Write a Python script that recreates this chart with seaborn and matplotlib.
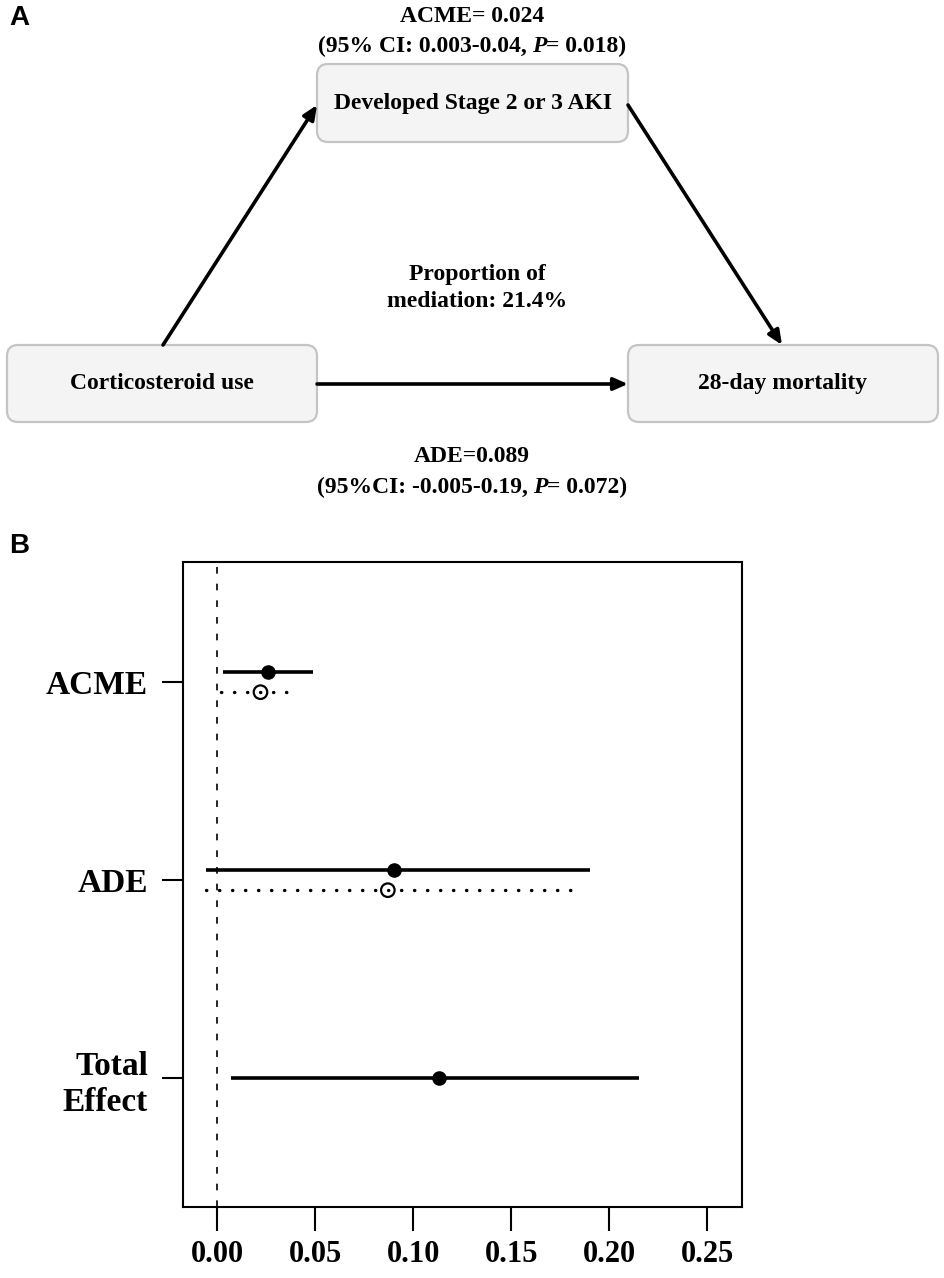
import numpy as np
import pandas as pd
import seaborn as sns
import matplotlib.pyplot as plt
from matplotlib.patches import FancyBboxPatch
from matplotlib.offsetbox import TextArea, HPacker, AnnotationBbox, DrawingArea

# panel B values
effects = ["ACME", "ADE", "Total\nEffect"]
ypos = [3, 2, 1]
treated_est = [0.026, 0.090, 0.113]
treated_lo = [0.003, -0.006, 0.007]
treated_hi = [0.049, 0.190, 0.215]
control_est = [0.022, 0.087]
control_lo = [0.002, -0.006]
control_hi = [0.036, 0.182]
x_ticks = [0.00, 0.05, 0.10, 0.15, 0.20, 0.25]

# panel A text
node_labels = ["Corticosteroid use", "Developed Stage 2 or 3 AKI", "28-day mortality"]
acme_title = "ACME= 0.024"
acme_ci = ["(95% CI: 0.003-0.04, ", "P", "= 0.018)"]
ade_title = "ADE=0.089"
ade_ci = ["(95%CI: -0.005-0.19, ", "P", "= 0.072)"]
prop_text = "Proportion of\nmediation: 21.4%"

sns.set_style("white")
plt.rcParams['font.family'] = ['Liberation Serif', 'DejaVu Serif']
plt.rcParams['font.weight'] = 'bold'
plt.rcParams['text.color'] = 'black'
plt.rcParams['xtick.color'] = 'black'
plt.rcParams['ytick.color'] = 'black'
plt.rcParams['axes.labelcolor'] = 'black'

fig = plt.figure(figsize=(9.45, 12.78), dpi=100)

# ---- panel A: overlay axes in pixel coords
ax_a = fig.add_axes([0, 0, 1, 1], zorder=0)
ax_a.set_xlim(0, 945)
ax_a.set_ylim(1278, 0)
ax_a.axis('off')

boxes = [(162, 383.5, 310, 77), (472.5, 103, 311, 78), (783, 383.5, 310, 77)]
for (cx, cy, w, h), lab in zip(boxes, node_labels):
    ax_a.add_patch(FancyBboxPatch((cx - w / 2, cy - h / 2), w, h,
                                  boxstyle="round,pad=0,rounding_size=11",
                                  facecolor="#f4f4f4", edgecolor="#c4c4c4", lw=1.6))
    ax_a.text(cx, cy, lab, ha='center', va='center', fontsize=17,
              fontweight='bold', color='black')

arrows = [((163, 345), (317, 105)), ((628, 105), (782, 345)), ((317, 384), (628, 384))]
for start, tip in arrows:
    ax_a.annotate("", xy=tip, xytext=start,
                  arrowprops=dict(arrowstyle="-|>,head_length=0.5,head_width=0.22",
                                  color="black", lw=2.6,
                                  mutation_scale=17, shrinkA=0, shrinkB=0))

ax_a.text(472, 17, acme_title, ha='center', va='center', fontsize=17,
          fontweight='bold', color='black')
ax_a.text(472, 457, ade_title, ha='center', va='center', fontsize=17,
          fontweight='bold', color='black')
ax_a.text(477, 288, prop_text, ha='center', va='center', fontsize=17,
          fontweight='bold', linespacing=1.35, color='black')


def ci_line(parts, y):
    tp = dict(fontsize=17, fontweight='bold', color='black')
    kids = [TextArea(parts[0].rstrip(), textprops=tp),
            DrawingArea(4, 1),
            TextArea(parts[1], textprops=dict(tp, fontstyle='italic')),
            TextArea(parts[2], textprops=tp)]
    box = HPacker(children=kids, align="baseline", pad=0, sep=0)
    ab = AnnotationBbox(box, (472, y), xycoords='data', frameon=False,
                        box_alignment=(0.5, 0.5), pad=0)
    ax_a.add_artist(ab)


ci_line(acme_ci, 46)
ci_line(ade_ci, 487)

ax_a.text(9, 18, "A", ha='left', va='center', fontsize=20, fontweight='bold',
          family=['Liberation Sans', 'DejaVu Sans'], color='black')
ax_a.text(9, 546, "B", ha='left', va='center', fontsize=20, fontweight='bold',
          family=['Liberation Sans', 'DejaVu Sans'], color='black')

# ---- panel B
ax_b = fig.add_axes([182.7 / 945, 1 - 1207 / 1278, 559 / 945, 645.5 / 1278], zorder=1)

df_t = pd.DataFrame({"est": treated_est, "lo": treated_lo, "hi": treated_hi,
                     "y": np.array(ypos, dtype=float) + np.array([0.05, 0.05, 0.0])})
df_c = pd.DataFrame({"est": control_est, "lo": control_lo, "hi": control_hi,
                     "y": np.array(ypos[:2], dtype=float) - 0.05})

ax_b.axvline(0, color='black', lw=1.2, dashes=(4, 6), zorder=1)

ax_b.hlines(df_t["y"], df_t["lo"], df_t["hi"], color='black', lw=2.6, zorder=2)
dots = ax_b.hlines(df_c["y"], df_c["lo"], df_c["hi"], color='black', lw=2.4,
                   linestyles=[(0, (0.1, 3.8))], zorder=2)
dots.set_capstyle('round')

sns.scatterplot(data=df_t, x="est", y="y", color='black', s=110, marker='o',
                edgecolor='black', linewidth=0, ax=ax_b, zorder=3, legend=False)
sns.scatterplot(data=df_c, x="est", y="y", s=95, marker='o', ax=ax_b, zorder=3,
                legend=False)
pts = ax_b.collections[-1]
pts.set_facecolor('none')
pts.set_edgecolor('black')
pts.set_linewidth(1.6)

ax_b.set_xlim(-0.0177, 0.2676)
ax_b.set_ylim(0.35, 3.61)
ax_b.set_xticks(x_ticks)
ax_b.set_xticklabels([f"{v:.2f}" for v in x_ticks], fontsize=22, fontweight='bold',
                     color='black')
ax_b.set_yticks(ypos)
ax_b.set_yticklabels(effects, fontsize=24, fontweight='bold', color='black')
ax_b.set_xlabel("")
ax_b.set_ylabel("")
ax_b.tick_params(axis='x', length=17, width=1.5, pad=7, color='black', bottom=True)
ax_b.tick_params(axis='y', length=15, width=1.5, pad=10, color='black', left=True)
for sp in ax_b.spines.values():
    sp.set_color('black')
    sp.set_linewidth(1.5)
    sp.set_visible(True)

fig.savefig("out.png", dpi=100)
